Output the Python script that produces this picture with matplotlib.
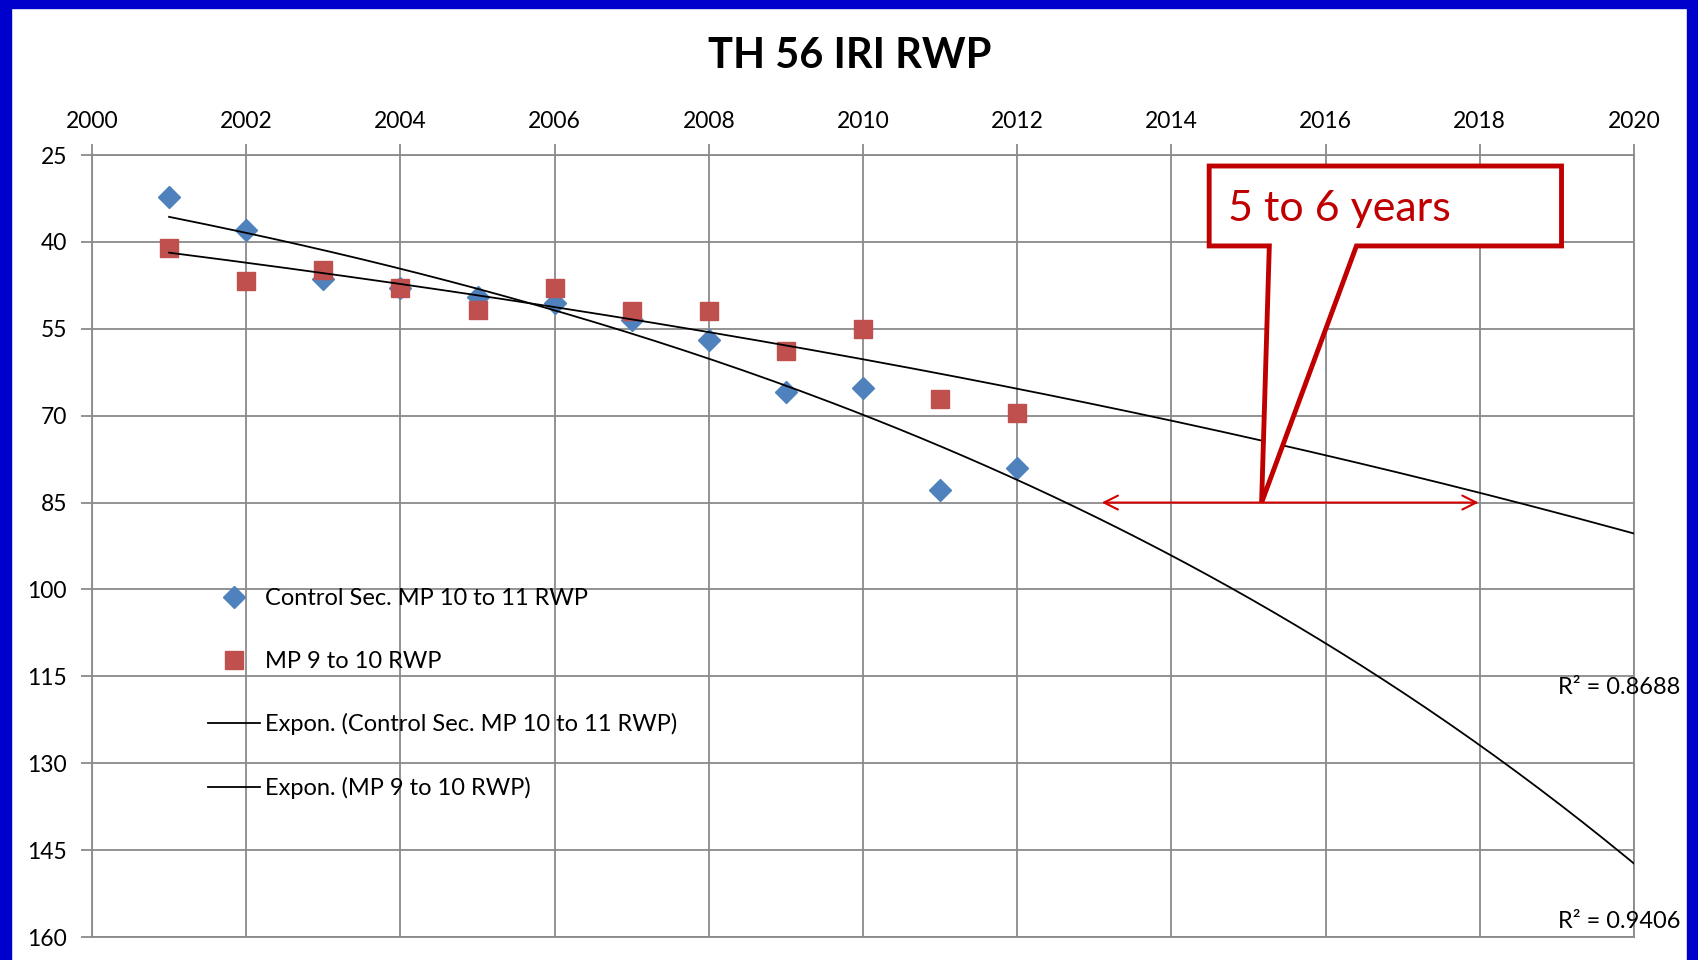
import numpy as np
import matplotlib
matplotlib.use("Agg")
import matplotlib.pyplot as plt
from matplotlib.patches import Rectangle, Polygon

plt.rcParams['font.family'] = ['Lato', 'DejaVu Sans']

# ---- data ----
years = [2001, 2002, 2003, 2004, 2005, 2006, 2007, 2008, 2009, 2010, 2011, 2012]
control_rwp = [32.3, 37.9, 46.4, 47.9, 49.6, 50.6, 53.5, 57.0, 65.9, 65.2, 82.9, 79.1]
mp9_rwp = [41.1, 46.8, 44.8, 48.0, 51.8, 48.0, 51.9, 51.9, 58.9, 55.0, 67.1, 69.6]
label_control = "Control Sec. MP 10 to 11 RWP"
label_mp9 = "MP 9 to 10 RWP"
r2_control = "R² = 0.9406"
r2_mp9 = "R² = 0.8688"
title = "TH 56 IRI RWP"
xticks = [2000, 2002, 2004, 2006, 2008, 2010, 2012, 2014, 2016, 2018, 2020]
yticks = [25, 40, 55, 70, 85, 100, 115, 130, 145, 160]
forecast_end = 2020

BLUE = "#4F81BD"
RED = "#C0504D"
GRID = "#8A8A8A"
CALLOUT = "#C00000"

fig = plt.figure(figsize=(16.98, 9.60), dpi=100)
fig.patch.set_facecolor("white")
ax = fig.add_axes([92/1698, 1-937/960, (1634-92)/1698, (937-155)/960])

x = np.array(years, dtype=float)
yc = np.array(control_rwp)
ym = np.array(mp9_rwp)

ax.plot(x, yc, linestyle="none", marker="D", ms=11.5, color=BLUE, mec=BLUE,
        label=label_control, zorder=3)
ax.plot(x, ym, linestyle="none", marker="s", ms=12.5, color=RED, mec=RED,
        label=label_mp9, zorder=4)

# exponential trendlines (least squares on log values, as Excel)
xx = np.linspace(years[0], forecast_end, 200)
bc, ac = np.polyfit(x, np.log(yc), 1)
bm, am = np.polyfit(x, np.log(ym), 1)
ax.plot(xx, np.exp(ac + bc * xx), color="black", lw=1.3,
        label="Expon. (" + label_control + ")", zorder=5)
ax.plot(xx, np.exp(am + bm * xx), color="black", lw=1.3,
        label="Expon. (" + label_mp9 + ")", zorder=5)

ax.set_xlim(2000, 2020)
ax.set_ylim(160, 25)
ax.set_xticks(xticks)
ax.set_yticks(yticks)
ax.xaxis.tick_top()
ax.tick_params(axis="both", direction="out", length=8, width=1.3, color=GRID,
               labelsize=16.5, labelcolor="black")
ax.tick_params(axis="x", pad=8.5)
ax.tick_params(axis="y", pad=10)
ax.grid(True, color=GRID, lw=1.3)
ax.set_axisbelow(True)
for s in ax.spines.values():
    s.set_color(GRID)
    s.set_linewidth(1.3)

fig.text(850/1698, 1-56/960, title, ha="center", va="center",
         fontsize=30, fontweight="bold")

leg = ax.legend(loc="upper left", bbox_to_anchor=(0.0752, 0.446), frameon=False,
                fontsize=17, labelspacing=1.76, handlelength=2.2,
                handletextpad=0.2, borderpad=0, borderaxespad=0)

# R^2 labels
ax.text(1.03, (937-921)/782, r2_control, transform=ax.transAxes, ha="right",
        va="center", fontsize=17, clip_on=False)
ax.text(1.03, (937-688)/782, r2_mp9, transform=ax.transAxes, ha="right",
        va="center", fontsize=17, clip_on=False)

# callout
L, R, T, B = 2014.49, 2019.06, 26.9, 40.7
p1, p2, tip = 2015.27, 2016.40, (2015.17, 85.0)
poly = Polygon([(L, T), (R, T), (R, B), (p2, B), tip, (p1, B), (L, B)],
               closed=True, facecolor="white", edgecolor=CALLOUT, lw=3.5,
               joinstyle="miter", zorder=6)
ax.add_patch(poly)
ax.text(L + 0.25, (T + B) / 2 + 0.5, "5 to 6 years", ha="left", va="center",
        fontsize=31, color=CALLOUT, zorder=7)
ax.annotate("", xy=(2013.06, 85), xytext=(2018.02, 85),
            arrowprops=dict(arrowstyle="<->,head_length=1.0,head_width=0.5",
                            color="#D40000", lw=1.5), zorder=6)

# blue frame
fig.patches.append(Rectangle((0, 0), 11/1698, 1, transform=fig.transFigure,
                             color="#0000CC", zorder=10))
fig.patches.append(Rectangle((1-11/1698, 0), 11/1698, 1, transform=fig.transFigure,
                             color="#0000CC", zorder=10))
fig.patches.append(Rectangle((0, 1-8/960), 1, 8/960, transform=fig.transFigure,
                             color="#0000CC", zorder=10))

fig.savefig("out.png", dpi=100, facecolor="white")
